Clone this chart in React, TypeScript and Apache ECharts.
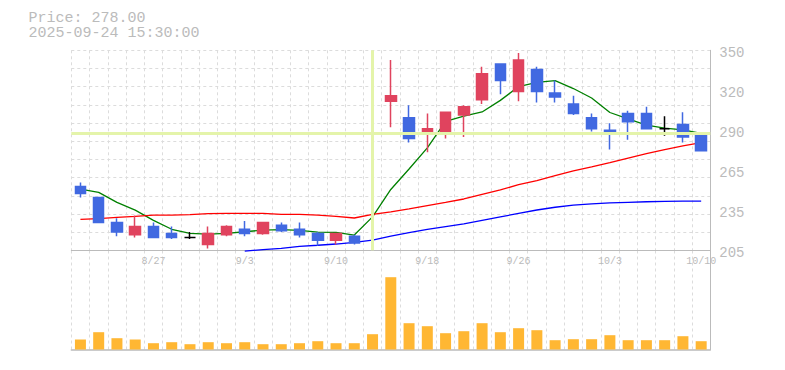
import React, { useEffect, useRef } from "react";
import * as echarts from "echarts";

const dates = [
  "8/21", "8/22", "8/25", "8/26", "8/27", "8/28", "8/29", "9/1", "9/2", "9/3",
  "9/4", "9/5", "9/8", "9/9", "9/10", "9/11", "9/12", "9/16", "9/17", "9/18",
  "9/19", "9/22", "9/24", "9/25", "9/26", "9/29", "9/30", "10/1", "10/2", "10/3",
  "10/6", "10/7", "10/8", "10/9", "10/10",
];

// [open, close, low, high]
const ohlc: number[][] = [
  [253, 248, 245, 256], [245, 227, 227, 245], [227, 220, 217, 230], [218, 224, 216, 232],
  [224, 216, 216, 227], [219, 216, 215, 224], [216, 216, 215, 220], [211, 219, 208, 224],
  [218, 224, 217, 225], [222, 219, 217, 228], [219, 227, 218, 227], [225, 221, 220, 227],
  [222, 218, 216, 227], [219, 214, 210, 220], [214, 219, 211, 219], [217, 212, 211, 218],
  [292, 292, 287, 292], [315, 319, 296, 345], [303, 288, 285, 312], [291, 295, 278, 306],
  [293, 307, 288, 307], [305, 311, 289, 312], [316, 335, 313, 340], [342, 330, 320, 342],
  [322, 345, 315, 350], [338, 322, 314, 340], [321, 318, 314, 330], [313, 306, 305, 319],
  [303, 295, 293, 306], [294, 293, 280, 299], [306, 300, 287, 308], [306, 295, 295, 311],
  [295, 295, 290, 304], [298, 289, 285, 307], [290, 279, 279, 290],
];

const volumes = [
  100, 173, 113, 100, 63, 73, 53, 73, 63, 73, 53, 53, 63, 83, 63, 63, 153, 723, 263, 233,
  163, 183, 263, 173, 213, 193, 93, 103, 103, 143, 93, 93, 93, 133, 83,
];

const ma5 = [
  251.2, 248.8, 241.5, 235.9, 228.5, 222, 219, 218.5, 219, 220.2, 221.4, 221.7, 221.2, 220,
  219.8, 217.8, 231, 250.9, 265.8, 281.1, 300.3, 304.1, 307.2, 315.6, 325.6, 328.7, 330,
  324.2, 317.3, 306.8, 302.2, 297.6, 295.5, 294.2, 291.6,
];

const ma25 = [
  229.2, 229.7, 230.7, 231.4, 232.3, 232.3, 232.6, 233.3, 233.6, 233.6, 233.6, 232.8, 232.8,
  232.3, 231.4, 230.2, 232.8, 234.6, 236.8, 239.2, 241.5, 244, 247.4, 250.6, 254.4, 257.4,
  261, 264.4, 267.3, 270.4, 273.7, 276.9, 279.9, 282.5, 284.9,
];

const ma75 = [
  null, null, null, null, null, null, null, null, null, 206.2, 207.2, 208.2, 209.6, 210.4,
  211.3, 212.5, 214.2, 217, 219.5, 222, 224, 226, 228.5, 231, 233.5, 236, 238, 239.5, 240.5,
  241.2, 241.6, 242, 242.2, 242.4, 242.5,
];

const priceTicks = [205, 234, 263, 292, 321, 350];
const crossIndex = 16;
const crossPrice = 292;
const titleLine1 = "Price: 278.00";
const titleLine2 = "2025-09-24 15:30:00";

const RED = "#e0435e";
const BLUE = "#4169e1";
const GRID_GRAY = "#dcdcdc";
const AXIS_GRAY = "#bbbbbb";
const CROSS = "#e4f4aa";
const MONO = '"Liberation Mono", "DejaVu Sans Mono", monospace';

export default function App() {
  const ref = useRef<HTMLDivElement>(null);

  useEffect(() => {
    if (!ref.current) return;
    const chart = echarts.init(ref.current, undefined, { renderer: "svg" });

    const candleData = ohlc.map((d) =>
      d[0] === d[1]
        ? {
            value: d,
            itemStyle: { color: "#000", color0: "#000", borderColor: "#000", borderColor0: "#000", borderColorDoji: "#000" },
          }
        : d
    );

    const L = 71.3;
    const W = 639;

    const option: any = {
      animation: false,
      backgroundColor: "#ffffff",
      graphic: [
        { type: "text", left: 28.5, top: 10.5, style: { text: titleLine1, font: `15px ${MONO}`, fill: "#bbbbbb" } },
        { type: "text", left: 28.5, top: 26, style: { text: titleLine2, font: `15px ${MONO}`, fill: "#bbbbbb" } },
      ],
      grid: [
        { left: L, width: W, top: 53, height: 199.7 },
        { left: L, width: W, top: 50.3, height: 200 },
        { left: L, width: W, top: 250.5, height: 99 },
      ],
      xAxis: [
        {
          type: "category",
          gridIndex: 0,
          data: dates,
          boundaryGap: true,
          axisLine: { show: false },
          axisTick: { show: false },
          splitLine: { show: false },
          axisLabel: {
            interval: (i: number) => i % 5 === 4,
            color: AXIS_GRAY,
            fontSize: 10,
            fontFamily: MONO,
            margin: 4,
          },
        },
        {
          type: "category",
          gridIndex: 1,
          data: dates,
          boundaryGap: true,
          axisLine: { show: true, lineStyle: { color: AXIS_GRAY, width: 1 } },
          axisTick: { show: false },
          axisLabel: { show: false },
          splitLine: { show: true, interval: 0, lineStyle: { color: GRID_GRAY, type: [3, 3], width: 1 } },
        },
        {
          type: "category",
          gridIndex: 2,
          data: dates,
          boundaryGap: true,
          axisLine: { show: true, lineStyle: { color: AXIS_GRAY, width: 1.5 } },
          axisTick: { show: false },
          axisLabel: { show: false },
          splitLine: { show: true, interval: 0, lineStyle: { color: GRID_GRAY, type: [3, 3], width: 1 } },
        },
      ],
      yAxis: [
        {
          type: "value",
          gridIndex: 0,
          position: "right",
          min: 205,
          max: 350,
          axisLine: { show: false },
          axisTick: { show: false },
          splitLine: { show: false },
          axisLabel: {
            customValues: priceTicks,
            formatter: (v: number) => String(Math.round(v / 5) * 5),
            color: AXIS_GRAY,
            fontSize: 14,
            fontFamily: MONO,
            margin: 9,
          },
        },
        {
          type: "value",
          gridIndex: 1,
          position: "right",
          min: 0,
          max: 11,
          interval: 1,
          axisLine: { show: true, lineStyle: { color: AXIS_GRAY, width: 1 } },
          axisTick: { show: false },
          axisLabel: { show: false },
          splitLine: { show: true, lineStyle: { color: GRID_GRAY, type: [3, 3], width: 1 } },
        },
        {
          type: "value",
          gridIndex: 2,
          position: "right",
          min: 0,
          max: 990,
          axisLine: { show: true, lineStyle: { color: AXIS_GRAY, width: 1 } },
          axisTick: { show: false },
          axisLabel: { show: false },
          splitLine: { show: false },
        },
      ],
      series: [
        {
          type: "line",
          xAxisIndex: 1,
          yAxisIndex: 1,
          data: [],
          z: 1,
          silent: true,
          markLine: {
            silent: true,
            symbol: "none",
            label: { show: false },
            lineStyle: { color: CROSS, width: 3, type: "solid" },
            data: [{ xAxis: crossIndex }],
          },
        },
        {
          type: "line",
          xAxisIndex: 0,
          yAxisIndex: 0,
          data: [],
          z: 1,
          silent: true,
          markLine: {
            silent: true,
            symbol: "none",
            label: { show: false },
            lineStyle: { color: CROSS, width: 3, type: "solid" },
            data: [{ yAxis: crossPrice }],
          },
        },
        {
          name: "MA5",
          type: "line",
          xAxisIndex: 0,
          yAxisIndex: 0,
          data: ma5,
          symbol: "none",
          z: 2,
          lineStyle: { color: "#008000", width: 1.3 },
        },
        {
          name: "MA25",
          type: "line",
          xAxisIndex: 0,
          yAxisIndex: 0,
          data: ma25,
          symbol: "none",
          z: 2,
          lineStyle: { color: "#ff0000", width: 1.3 },
        },
        {
          name: "MA75",
          type: "line",
          xAxisIndex: 0,
          yAxisIndex: 0,
          data: ma75,
          symbol: "none",
          z: 2,
          lineStyle: { color: "#0000ff", width: 1.3 },
        },
        {
          type: "candlestick",
          xAxisIndex: 0,
          yAxisIndex: 0,
          data: candleData,
          barWidth: 11,
          z: 4,
          itemStyle: {
            color: RED,
            color0: BLUE,
            borderColor: RED,
            borderColor0: BLUE,
            borderColorDoji: "#000",
            borderWidth: 1.5,
          },
        },
        {
          type: "bar",
          xAxisIndex: 2,
          yAxisIndex: 2,
          data: volumes,
          barWidth: 11,
          itemStyle: { color: "#ffb733" },
        },
      ],
    };

    chart.setOption(option);
    return () => chart.dispose();
  }, []);

  return <div ref={ref} style={{ width: 785, height: 370, position: "absolute", left: 0, top: 0 }} />;
}
